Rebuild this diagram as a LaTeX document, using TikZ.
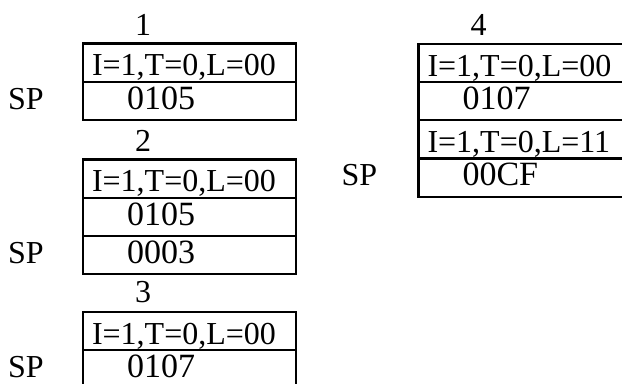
\documentclass[tikz,border=0pt]{standalone}
\usepackage{fontspec}
\setmainfont{Liberation Serif}
\usetikzlibrary{positioning}

\begin{document}
\begin{tikzpicture}[x=0.5pt,y=-0.5pt,
  cell/.style={draw,line width=1.1pt,outer sep=0pt,minimum width=106.5pt,minimum height=19.1pt,inner ysep=0pt},
  flag/.style={cell,inner xsep=4.5pt,text width=97.5pt,align=left,font=\fontsize{16pt}{18pt}\selectfont,text height=13.4pt,text depth=0pt},
  word/.style={cell,inner xsep=22pt,text width=62.5pt,align=left,font=\fontsize{17pt}{19pt}\selectfont,text height=11.9pt,text depth=3.6pt},
  num/.style={inner sep=0pt,font=\fontsize{16pt}{18pt}\selectfont},
  sp/.style={inner sep=0pt,font=\fontsize{16pt}{18pt}\selectfont}]
\useasboundingbox (0,0) rectangle (622,384);

\node[flag,anchor=north west] (b1a) at (83,43.5) {I=1,T=0,L=00};
\node[word,below=0pt of b1a] (b1b) {0105};
\node[sp,base left=19.5pt of b1b] (sp1) {SP};
\node[num,above=4pt of b1a.north west,xshift=30pt] (n1) {1};

\node[flag,anchor=north west] (b2a) at (83,159.5) {I=1,T=0,L=00};
\node[word,below=0pt of b2a] (b2b) {0105};
\node[word,below=0pt of b2b] (b2c) {0003};
\node[sp,base left=19.5pt of b2c] (sp2) {SP};
\node[num,above=4pt of b2a.north west,xshift=30pt] (n2) {2};

\node[flag,anchor=north west] (b3a) at (83,311.7) {I=1,T=0,L=00};
\node[word,below=0pt of b3a] (b3b) {0107};
\node[sp,base left=19.5pt of b3b] (sp3) {SP};
\node[num,above=4pt of b3a.north west,xshift=30pt] (n3) {3};

\node[flag,anchor=north west] (b4a) at (418.5,44) {I=1,T=0,L=00};
\node[word,below=0pt of b4a] (b4b) {0107};
\node[flag,below=0pt of b4b] (b4c) {I=1,T=0,L=11};
\node[word,below=0pt of b4c] (b4d) {00CF};
\node[sp,base left=20.5pt of b4d] (sp4) {SP};
\node[num,above=4pt of b4a.north west,xshift=30pt] (n4) {4};
\end{tikzpicture}
\end{document}
